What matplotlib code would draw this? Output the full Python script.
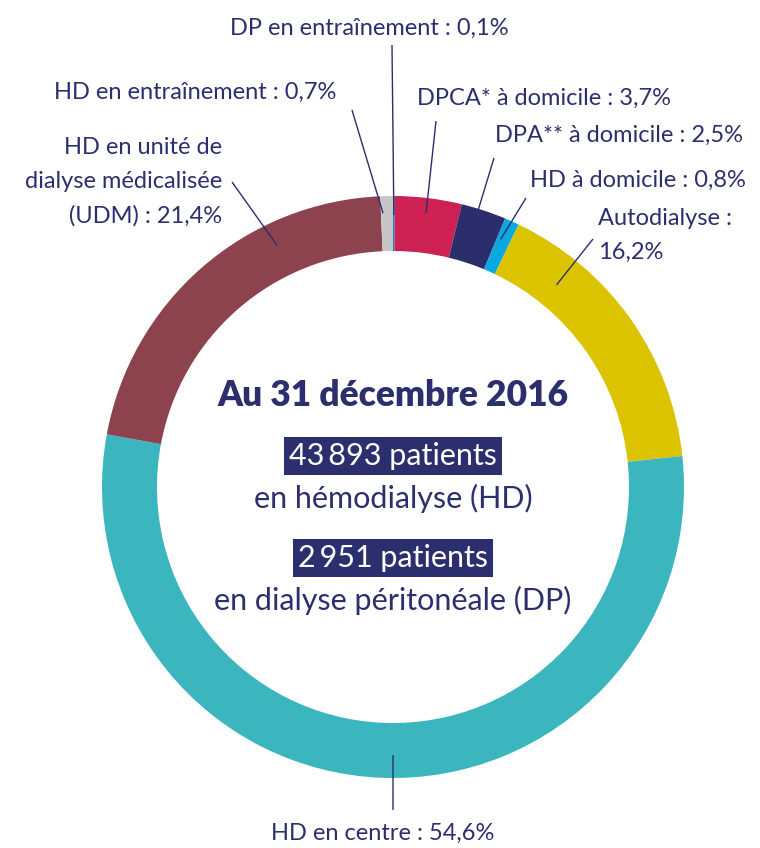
import numpy as np
import matplotlib.pyplot as plt

W, H = 760, 848

# slices, clockwise from the top
labels = ["DP en entraînement : 0,1%", "DPCA* à domicile : 3,7%", "DPA** à domicile : 2,5%",
          "HD à domicile : 0,8%", "Autodialyse :\n16,2%", "HD en centre : 54,6%",
          "HD en unité de\ndialyse médicalisée\n(UDM) : 21,4%", "HD en entraînement : 0,7%"]
values = [0.1, 3.7, 2.5, 0.8, 16.2, 54.6, 21.4, 0.7]
colors = ["#1a7cc1", "#cc2152", "#2b2d6c", "#0aa8e0", "#dbc300", "#3cb6be", "#8c434d", "#c6c6c6"]

hd_patients = "43\u2009893 patients"
dp_patients = "2\u2009951 patients"

NAVY = "#2c2f6e"
CX, CY, R, RING = 393, 487, 291, 55

# label placement: text anchor (x, y, ha), leader start, position inside slice (frac, radius)
label_pos = [(369, 28, "center"), (417, 98, "left"), (495, 135, "left"), (530, 180, "left"),
             (598, 235, "left"), (383, 833, "center"), (222, 182, "right"), (195, 92, "center")]
leader_start = [(392, 45), (436, 121), (494, 158), (526, 198), (593, 239), (393, 810), (232, 182), (352, 110)]
leader_end = [(0.5, 272), (0.49, 276), (0.38, 284), (0.28, 270), (0.23, 260), (0.489, 268), (0.70, 268), (0.17, 274)]

plt.rcParams['font.family'] = ['Lato', 'DejaVu Sans']

fig = plt.figure(figsize=(W / 100, H / 100), dpi=100)
ax = fig.add_axes([0, 0, 1, 1])

ax.pie(values, colors=colors, startangle=90, counterclock=False,
       center=(CX, H - CY), radius=R, wedgeprops=dict(width=RING, linewidth=0))
ax.set_xlim(0, W)
ax.set_ylim(0, H)
ax.set_aspect('equal')
ax.axis('off')

# leader lines from the slices to their labels
cum = np.concatenate([[0], np.cumsum(values)]) / sum(values) * 360
for i, lab in enumerate(labels):
    frac, r = leader_end[i]
    ang = np.radians(cum[i] + frac * (cum[i + 1] - cum[i]))
    ex, ey = CX + r * np.sin(ang), CY - r * np.cos(ang)
    sx, sy = leader_start[i]
    ax.plot([sx, ex], [H - sy, H - ey], color=NAVY, lw=1.0, solid_capstyle='butt')
    tx, ty, ha = label_pos[i]
    ax.text(tx, H - ty, lab, ha=ha, va='center', fontsize=17, color=NAVY, linespacing=1.75)

# centre text
ax.text(CX, H - 395, "Au 31 décembre 2016", ha='center', va='center', fontsize=25.5,
        fontweight='heavy', color=NAVY)
ax.text(CX, H - 456, hd_patients, ha='center', va='center', fontsize=22, color='white',
        bbox=dict(boxstyle='square,pad=0.17', fc=NAVY, ec='none'))
ax.text(CX, H - 498, "en hémodialyse (HD)", ha='center', va='center', fontsize=22, color=NAVY)
ax.text(CX, H - 558, dp_patients, ha='center', va='center', fontsize=22, color='white',
        bbox=dict(boxstyle='square,pad=0.17', fc=NAVY, ec='none'))
ax.text(CX, H - 600, "en dialyse péritonéale (DP)", ha='center', va='center', fontsize=22, color=NAVY)

fig.savefig("out.png", dpi=100)
